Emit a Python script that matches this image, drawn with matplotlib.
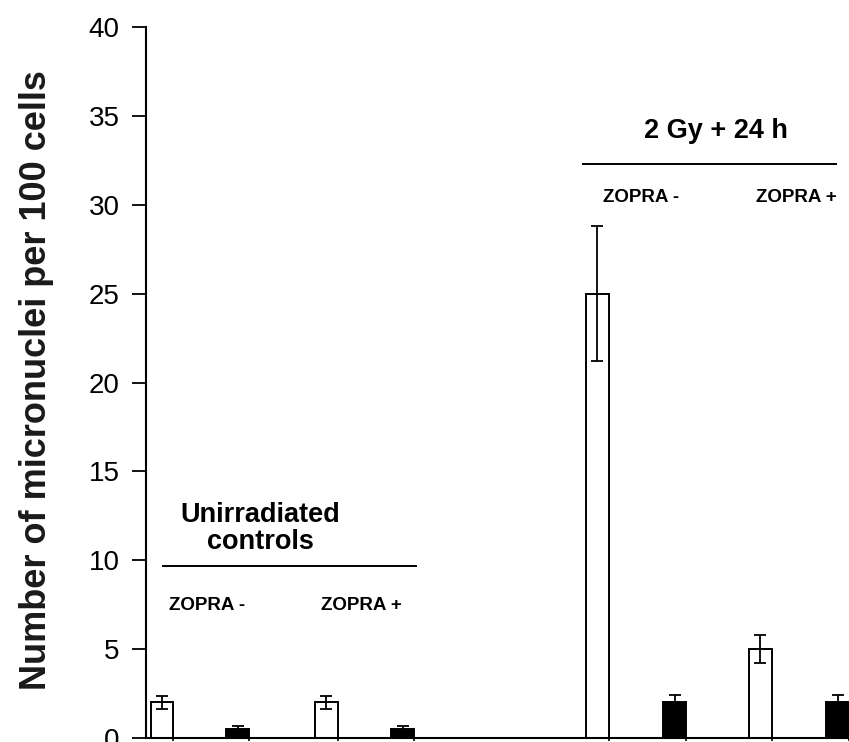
import matplotlib
matplotlib.use("Agg")
import matplotlib.pyplot as plt
import numpy as np

plt.rcParams['font.family'] = ['Liberation Sans', 'DejaVu Sans']

# bar centres (axis units), white = open bars, black = filled bars
positions = [0.16, 0.92, 1.81, 2.58, 4.53, 5.31, 6.17, 6.945]
values = [2.0, 0.5, 2.0, 0.5, 25.0, 2.0, 5.0, 2.0]
errors = [0.35, 0.2, 0.35, 0.2, 3.8, 0.4, 0.8, 0.4]
fills = ['white', 'black', 'white', 'black', 'white', 'black', 'white', 'black']

yticks = [0, 5, 10, 15, 20, 25, 30, 35, 40]
ylabel = "Number of micronuclei per 100 cells"

fig = plt.figure(figsize=(8.49, 7.42), dpi=100)
ax = fig.add_axes([0.172, 0.0054, 0.828, 0.958])

width = 0.23
for x, v, e, c in zip(positions, values, errors, fills):
    ax.bar(x, v, width=width, color=c, edgecolor='black', linewidth=1.4,
           zorder=2)
    ax.errorbar(x, v, yerr=e, fmt='none', ecolor='black', elinewidth=1.3,
                capsize=4, capthick=1.3, zorder=3)

ax.set_xlim(0, 7.03)
ax.set_ylim(0, 40)
ax.set_yticks(yticks)
ax.set_xticks([p + width / 2 for p in positions])
ax.set_xticklabels([])
ax.tick_params(axis='y', length=10, width=1.3, labelsize=20, pad=9)
ax.tick_params(axis='x', length=2, width=1.2)
for s in ('top', 'right'):
    ax.spines[s].set_visible(False)
for s in ('left', 'bottom'):
    ax.spines[s].set_linewidth(1.5)
    ax.spines[s].set_clip_on(False)

fig.text(37 / 849, 1 - 380 / 742, ylabel, rotation=90, ha='center',
         va='center', fontsize=26, fontweight='bold', color='#1a1a1a')

# group annotations
ax.text(1.15, 11.8, "Unirradiated\ncontrols", ha='center', va='center',
        fontsize=19.5, fontweight='bold', linespacing=1.05)
ax.plot([0.17, 2.71], [9.68, 9.68], color='black', lw=1.4, clip_on=False)
ax.text(0.61, 7.43, "ZOPRA -", ha='center', va='center', fontsize=13.5,
        fontweight='bold')
ax.text(2.16, 7.43, "ZOPRA +", ha='center', va='center', fontsize=13.5,
        fontweight='bold')

ax.text(5.72, 34.15, "2 Gy + 24 h", ha='center', va='center', fontsize=19.5,
        fontweight='bold')
ax.plot([4.39, 6.93], [32.3, 32.3], color='black', lw=1.4, clip_on=False)
ax.text(4.97, 30.4, "ZOPRA -", ha='center', va='center', fontsize=13.5,
        fontweight='bold')
ax.text(6.53, 30.4, "ZOPRA +", ha='center', va='center', fontsize=13.5,
        fontweight='bold')

fig.savefig("out.png", dpi=100)
